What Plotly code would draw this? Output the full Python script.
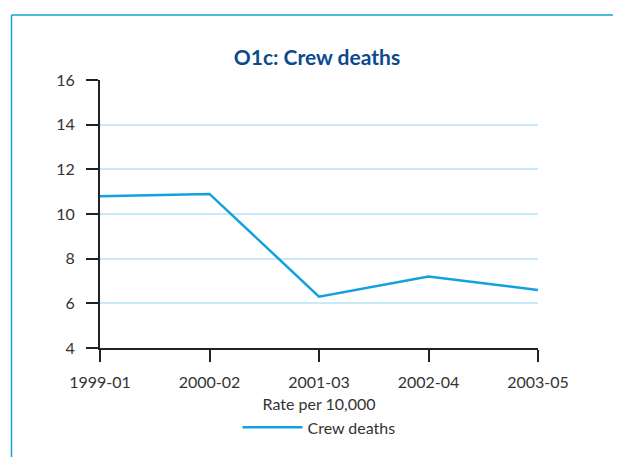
import plotly.graph_objects as go

categories = ["1999-01", "2000-02", "2001-03", "2002-04", "2003-05"]
crew_deaths = [10.8, 10.9, 6.3, 7.2, 6.6]
y_ticks = [4, 6, 8, 10, 12, 14, 16]

FONT = "Lato"
FS = 16
OFF = 8  # page body margin
fig = go.Figure()
fig.add_trace(go.Scatter(
    x=list(range(len(categories))), y=crew_deaths, mode="lines",
    name="Crew deaths", line=dict(color="#12a0de", width=2.5),
))

W, H = 621 - OFF, 457 - OFF
# target page pixel positions of the plot area
PL, PR, PT, PB = 100, 538, 80, 350
L, T = PL - OFF, PT - OFF
R, B = 621 - PR, 457 - PB
pw, ph = PR - PL, PB - PT

def px_x(p):
    return (p - PL) / pw

def px_y(p):
    return (PB - p) / ph

frame = "#1aa0d2"
fig.add_shape(type="line", xref="paper", yref="paper",
              x0=px_x(11.5), x1=px_x(660), y0=px_y(14.5), y1=px_y(14.5),
              line=dict(color=frame, width=1.5))
fig.add_shape(type="line", xref="paper", yref="paper",
              x0=px_x(11.5), x1=px_x(11.5), y0=px_y(14.5), y1=px_y(500),
              line=dict(color=frame, width=1.5))

fig.update_layout(
    width=W, height=H,
    margin=dict(l=L, r=R, t=T, b=B),
    paper_bgcolor="white", plot_bgcolor="white",
    font=dict(family=FONT, size=FS, color="#333333"),
    title=dict(text="<b>O1c: Crew deaths</b>", x=(317 - OFF) / W, xanchor="center",
               y=1 - (58 - OFF) / H, yanchor="middle", yref="container",
               font=dict(family=FONT, size=21, color="#0b4a8e")),
    xaxis=dict(
        tickmode="array", tickvals=list(range(len(categories))), ticktext=categories,
        range=[0, 4], showgrid=False, zeroline=False,
        showline=True, linecolor="#222222", linewidth=2,
        ticks="outside", ticklen=12, tickwidth=2, tickcolor="#222222",
        ticklabelstandoff=7,
        title=dict(text="Rate per 10,000", standoff=9, font=dict(size=FS)),
        tickfont=dict(size=FS, color="#333333"),
    ),
    yaxis=dict(
        tickmode="array", tickvals=y_ticks, range=[4, 16],
        showgrid=True, gridcolor="#c8e9f8", gridwidth=1.5, zeroline=False,
        showline=True, linecolor="#222222", linewidth=2,
        ticks="outside", ticklen=12, tickwidth=2, tickcolor="#222222",
        ticklabelstandoff=8,
        tickfont=dict(size=FS, color="#333333"),
    ),
    showlegend=True,
    legend=dict(orientation="h", x=px_x(319), xanchor="center", y=px_y(430), yanchor="middle",
                font=dict(size=FS, color="#333333"), itemwidth=60, bgcolor="rgba(0,0,0,0)"),
)

fig.write_html("out.html")
